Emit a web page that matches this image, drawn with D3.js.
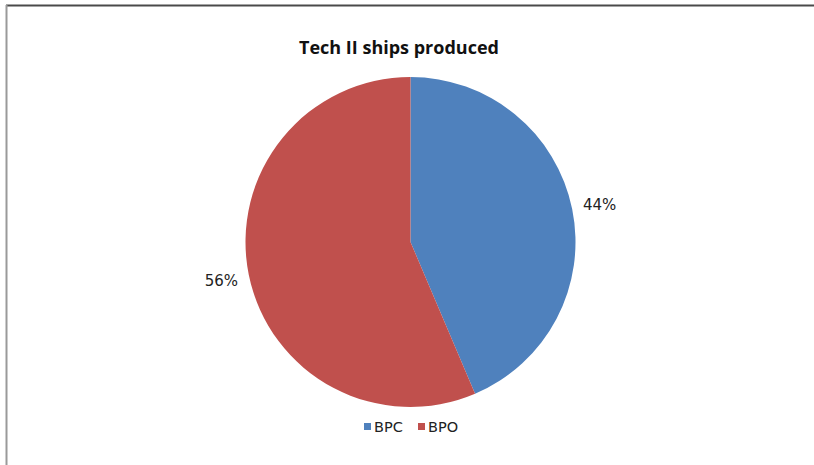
<!DOCTYPE html>
<html><head><meta charset="utf-8">
<script src="https://cdn.jsdelivr.net/npm/d3@7"></script>
<style>
html,body{margin:0;padding:0;background:#fff;}
svg{display:block;}
text{font-family:"DejaVu Sans",sans-serif;}
</style></head>
<body>
<svg id="c" width="814" height="465"></svg>
<script>
const categories = ["BPC", "BPO"];
const values = [43.6, 56.4];
const colors = ["#4F81BD", "#C0504D"];
const title = "Tech II ships produced";

const svg = d3.select("#c");
const W = 814, H = 465;

// frame
svg.append("line").attr("x1",6).attr("y1",5.5).attr("x2",W).attr("y2",5.5).attr("stroke","#4a4a4a").attr("stroke-width",2);
svg.append("line").attr("x1",6.5).attr("y1",5).attr("x2",6.5).attr("y2",H).attr("stroke","#9a9a9a").attr("stroke-width",2);

svg.append("text").attr("x",399).attr("y",54).attr("text-anchor","middle")
  .style("font-family","'Open Sans', sans-serif")
  .attr("font-size",18).attr("font-weight","bold").attr("fill","#111").text(title);

const cx = 410.5, cy = 242, r = 165;
const total = d3.sum(values);
const pie = d3.pie().sort(null).value(d => d)(values);
const arc = d3.arc().innerRadius(0).outerRadius(r);
const g = svg.append("g").attr("transform",`translate(${cx},${cy})`);
g.selectAll("path").data(pie).join("path")
  .attr("d",arc).attr("fill",(d,i)=>colors[i]);

const labelArc = d3.arc().innerRadius(r+28).outerRadius(r+28);
g.selectAll("text.lbl").data(pie).join("text").attr("class","lbl")
  .attr("x",d=>{const c=labelArc.centroid(d);return c[0];})
  .attr("y",d=>{const c=labelArc.centroid(d);return c[1] + (c[0]>0?2:0);})
  .attr("text-anchor","middle").attr("dominant-baseline","central")
  .attr("font-size",15).attr("fill","#222")
  .text(d=>Math.round(d.data/total*100)+"%");

// legend
const lg = svg.append("g").attr("transform","translate(364,427)");
const items = lg.selectAll("g").data(categories).join("g")
  .attr("transform",(d,i)=>`translate(${i*54},0)`);
items.append("rect").attr("x",0).attr("y",-4).attr("width",7).attr("height",7).attr("fill",(d,i)=>colors[i]);
items.append("text").attr("x",10).attr("y",0).attr("dominant-baseline","central")
  .attr("font-size",14.5).attr("fill","#222").text(d=>d);
</script>
</body></html>
